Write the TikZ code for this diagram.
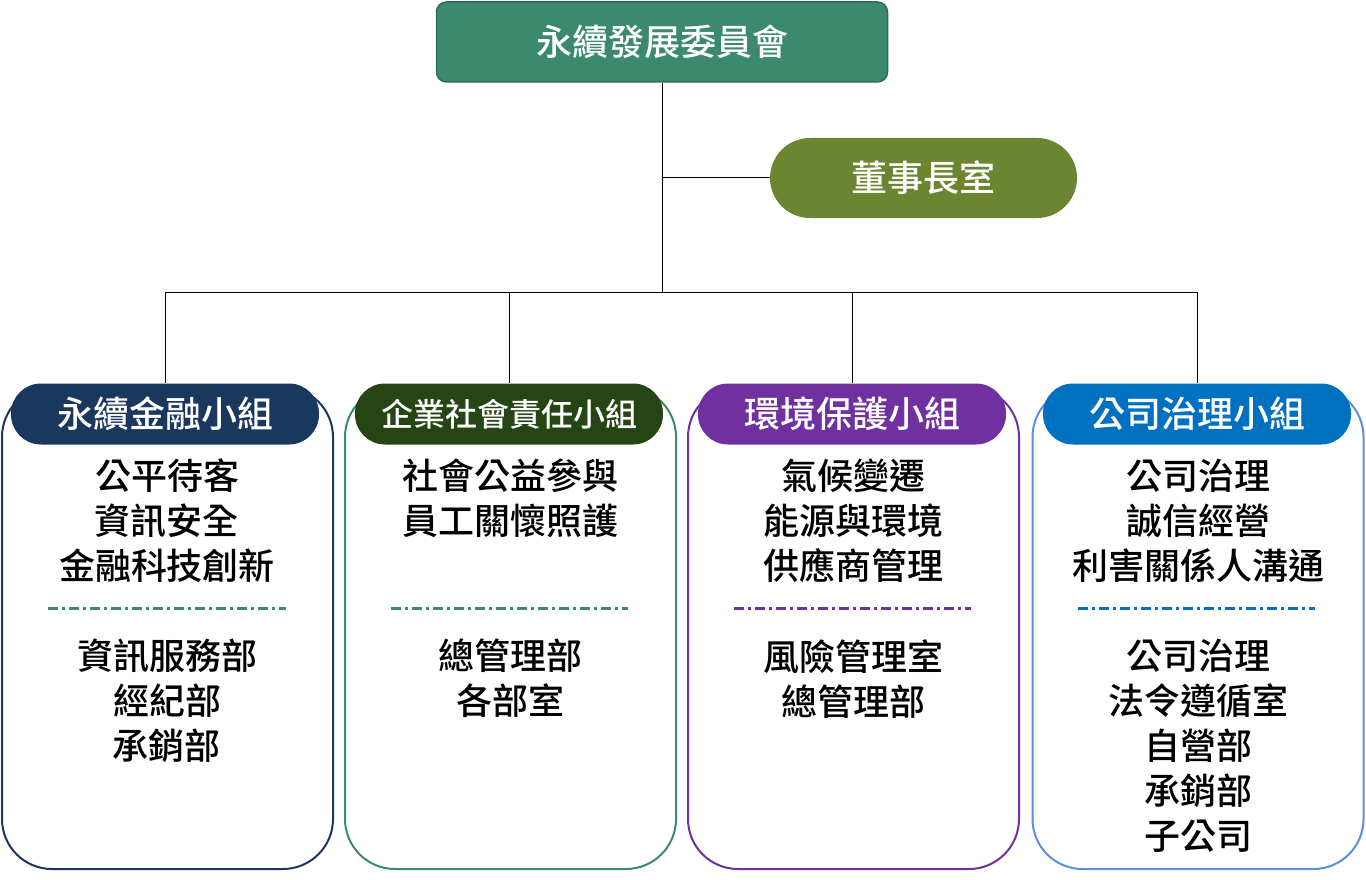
\documentclass[tikz,border=0pt]{standalone}
\usepackage{fontspec}
\setmainfont{Noto Sans CJK TC}[BoldFont={Noto Sans CJK TC Medium}]
\definecolor{committeegreen}{HTML}{3C8A6E}
\definecolor{committeeedge}{HTML}{2E6B55}
\definecolor{officeolive}{HTML}{6B8530}
\definecolor{financenavy}{HTML}{1A375E}
\definecolor{socialgreen}{HTML}{264514}
\definecolor{envpurple}{HTML}{7030A0}
\definecolor{govblue}{HTML}{0070C0}
\definecolor{govedge}{HTML}{5B8FD9}
\tikzset{
  committee/.style={draw=committeeedge, line width=1.5pt, fill=committeegreen,
    rounded corners=10pt, minimum width=451pt, minimum height=80pt,
    text=white, font=\bfseries\fontsize{36}{40}\selectfont},
  office/.style={fill=officeolive, rounded corners=40pt, minimum width=307pt,
    minimum height=80pt, text=white, font=\bfseries\fontsize{36}{40}\selectfont},
  groupbox/.style={draw=#1, line width=2pt, rounded corners=50pt,
    minimum width=331pt, minimum height=482pt, anchor=north},
  grouphead/.style={fill=#1, rounded corners=30pt, minimum width=308pt,
    minimum height=61pt, text=white, font=\bfseries\fontsize{36}{40}\selectfont},
  itemtext/.style={font=\bfseries\fontsize{36}{45}\selectfont, align=center,
    anchor=north, inner sep=0pt},
  sepline/.style={draw=#1, line width=3pt, dash pattern=on 10pt off 4pt on 3pt off 4pt},
  link/.style={draw=black, line width=1pt},
}
\begin{document}
\begin{tikzpicture}[x=1pt, y=-1pt]
  \useasboundingbox (0,0) rectangle (1366,880);

  % committee and chairman office
  \node[committee] (committee) at (662,42) {永續發展委員會};
  \node[office] (chairman) at (923.5,178) {董事長室};

  % group boxes
  \node[groupbox=financenavy] (g1) at (167.5,386) {};
  \node[groupbox=committeegreen] (g2) at (510.5,386) {};
  \node[groupbox=envpurple] (g3) at (853.5,386) {};
  \node[groupbox=govedge] (g4) at (1198,386) {};

  % group headers
  \node[grouphead=financenavy] (h1) at (165,414) {永續金融小組};
  \node[grouphead=socialgreen, font=\bfseries\fontsize{32}{36}\selectfont] (h2) at (509,414) {企業社會責任小組};
  \node[grouphead=envpurple] (h3) at (852,414) {環境保護小組};
  \node[grouphead=govblue] (h4) at (1197,414) {公司治理小組};

  % connectors
  \coordinate (junction) at (662,292);
  \draw[link] (committee.south) -- (junction);
  \draw[link] (committee.south |- chairman.west) -- (chairman.west);
  \draw[link] (h1.north |- junction) -- (h4.north |- junction);
  \foreach \h in {h1,h2,h3,h4}
    \draw[link] (\h.north |- junction) -- (\h.north);

  % topics
  \node[itemtext] (t1) at (167,459) {公平待客\\資訊安全\\金融科技創新};
  \node[itemtext] (t2) at (510,459) {社會公益參與\\員工關懷照護};
  \node[itemtext] (t3) at (853,459) {氣候變遷\\能源與環境\\供應商管理};
  \node[itemtext] (t4) at (1198,459) {公司治理\\誠信經營\\利害關係人溝通};

  % separators
  \draw[sepline=committeegreen] (48,608) -- (286,608);
  \draw[sepline=committeegreen] (391,608) -- (628,608);
  \draw[sepline=envpurple] (734,608) -- (971,608);
  \draw[sepline=govblue] (1078,608) -- (1315,608);

  % departments
  \node[itemtext] (d1) at (167,639) {資訊服務部\\經紀部\\承銷部};
  \node[itemtext] (d2) at (510,639) {總管理部\\各部室};
  \node[itemtext] (d3) at (853,639) {風險管理室\\總管理部};
  \node[itemtext] (d4) at (1198,639) {公司治理\\法令遵循室\\自營部\\承銷部\\子公司};
\end{tikzpicture}
\end{document}
